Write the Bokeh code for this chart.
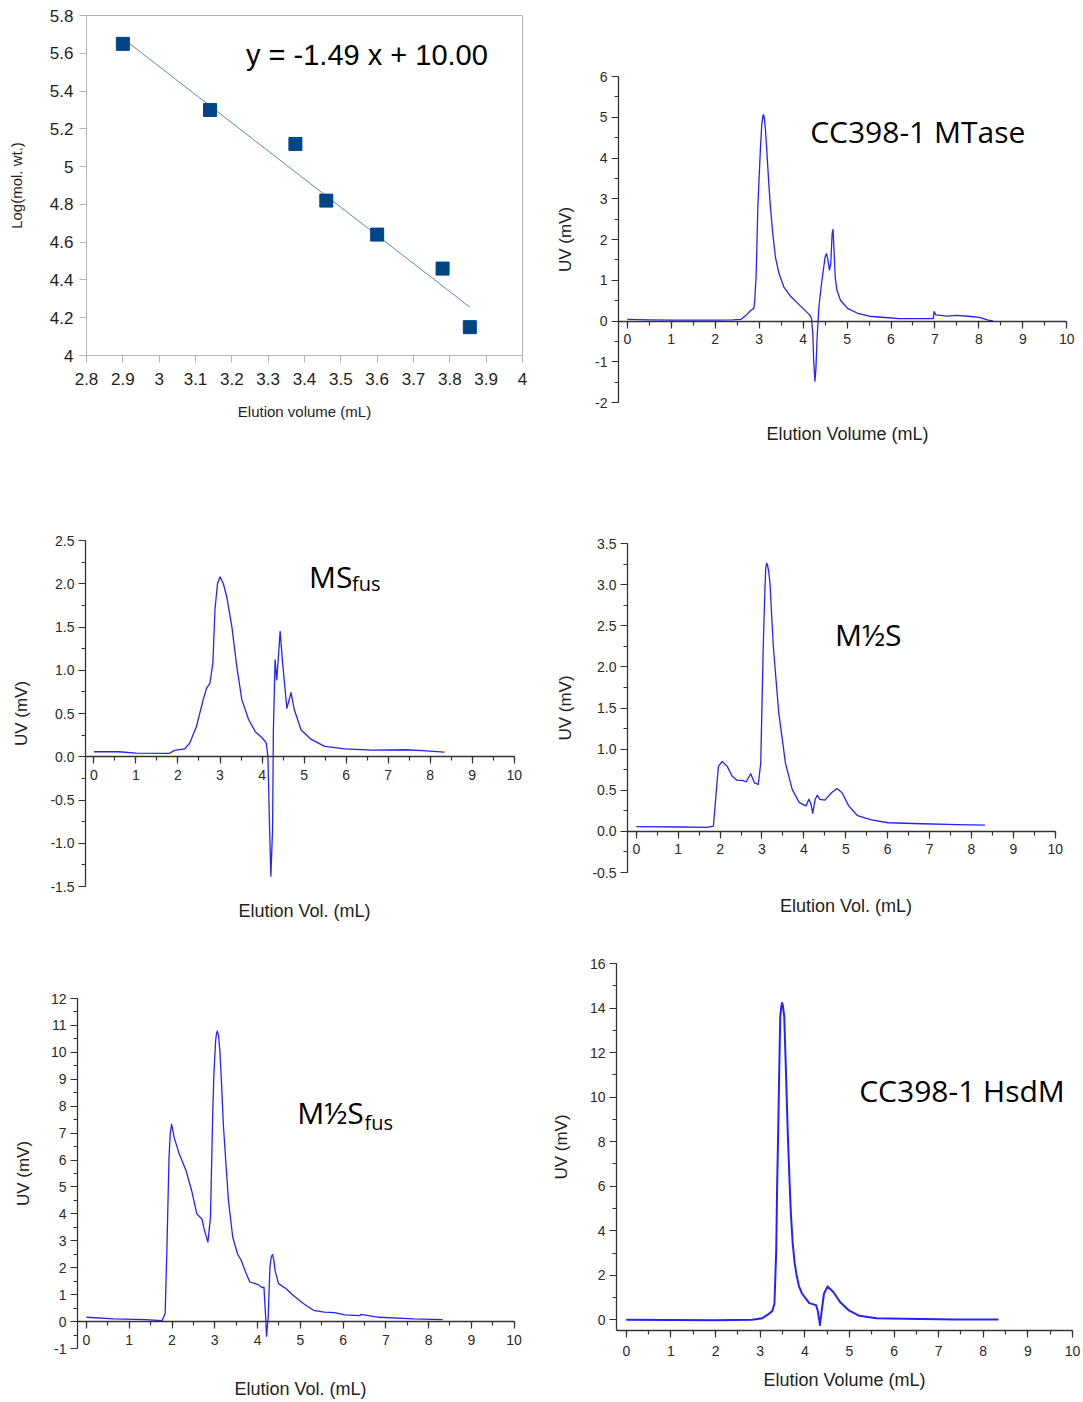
from bokeh.plotting import figure
from bokeh.layouts import column, row
from bokeh.models import (LinearAxis, SingleIntervalTicker, FixedTicker, Label,
                          CustomJSTickFormatter, PrintfTickFormatter, Range1d)
from bokeh.embed import file_html
from bokeh.resources import INLINE

# ---------------- data ----------------
# Panel 1: calibration
cal_volume = [2.90, 3.14, 3.375, 3.46, 3.60, 3.78, 3.855]
cal_logmw = [5.65, 5.30, 5.12, 4.82, 4.64, 4.46, 4.15]
fit_slope = -1.49
fit_intercept = 10.00
fit_text = "y = -1.49 x + 10.00"

# Panel 2: CC398-1 MTase
mtase_x = [0, 0.5, 1.0, 1.5, 2.0, 2.4, 2.59, 2.71, 2.82, 2.88, 2.90, 2.93, 2.95, 2.97, 3.00, 3.03,
           3.06, 3.09, 3.11, 3.14, 3.17, 3.21, 3.25, 3.31, 3.37, 3.45, 3.56, 3.72, 3.92, 4.07,
           4.15, 4.19, 4.22, 4.24, 4.27, 4.29, 4.32, 4.36, 4.41, 4.46, 4.50, 4.53, 4.56, 4.60,
           4.63, 4.66, 4.68, 4.70, 4.73, 4.77, 4.85, 5.01, 5.24, 5.55, 5.94, 6.18, 6.96, 6.98,
           7.02, 7.27, 7.50, 7.82, 8.01, 8.21, 8.32]
mtase_y = [0.04, 0.03, 0.02, 0.02, 0.02, 0.03, 0.04, 0.15, 0.27, 0.31, 0.51, 1.08, 1.9, 2.8, 3.53, 4.26,
           4.83, 5.06, 5.04, 4.75, 4.26, 3.53, 2.88, 2.14, 1.57, 1.17, 0.84, 0.60, 0.39, 0.23,
           0.15, 0.07, -0.3, -0.95, -1.48, -1.2, -0.38, 0.35, 0.84, 1.25, 1.57, 1.65, 1.53, 1.25,
           1.41, 2.14, 2.25, 1.82, 1.08, 0.76, 0.51, 0.31, 0.19, 0.11, 0.08, 0.06, 0.06, 0.23,
           0.15, 0.12, 0.14, 0.11, 0.09, 0.02, 0.0]

# Panel 3: MSfus
msfus_x = [0, 0.59, 1.0, 1.8, 1.92, 2.16, 2.28, 2.44, 2.60, 2.68, 2.76, 2.83, 2.88, 2.94, 3.00, 3.08,
           3.16, 3.28, 3.40, 3.52, 3.68, 3.84, 4.00, 4.10, 4.14, 4.18, 4.21, 4.25, 4.27, 4.31,
           4.35, 4.39, 4.43, 4.49, 4.59, 4.69, 4.77, 4.93, 5.17, 5.49, 5.97, 6.61, 7.42, 7.82, 8.34]
msfus_y = [0.058, 0.058, 0.042, 0.04, 0.073, 0.09, 0.16, 0.35, 0.66, 0.79, 0.85, 1.08, 1.70, 2.0, 2.08, 2.0,
           1.85, 1.51, 1.04, 0.66, 0.43, 0.29, 0.22, 0.16, 0.0, -0.84, -1.38, -0.84, 0.31, 1.12,
           0.89, 1.16, 1.45, 1.08, 0.56, 0.74, 0.54, 0.31, 0.20, 0.12, 0.09, 0.077, 0.081, 0.07, 0.054]

# Panel 4: M1/2S
mhs_x = [0, 1.1, 1.68, 1.84, 1.90, 1.96, 2.05, 2.17, 2.29, 2.41, 2.54, 2.62, 2.73, 2.82, 2.91, 2.97,
         3.03, 3.07, 3.09, 3.11, 3.13, 3.16, 3.19, 3.27, 3.40, 3.56, 3.72, 3.89, 4.05, 4.12, 4.17,
         4.21, 4.27, 4.32, 4.38, 4.50, 4.66, 4.79, 4.91, 5.07, 5.28, 5.61, 6.01, 6.83, 7.65, 8.32]
mhs_y = [0.057, 0.053, 0.049, 0.065, 0.43, 0.79, 0.85, 0.79, 0.67, 0.62, 0.62, 0.60, 0.70, 0.59, 0.57, 0.83,
         2.25, 2.95, 3.2, 3.26, 3.24, 3.16, 3.02, 2.25, 1.44, 0.83, 0.51, 0.35, 0.31, 0.39, 0.33,
         0.22, 0.39, 0.44, 0.39, 0.38, 0.47, 0.52, 0.47, 0.31, 0.19, 0.14, 0.105, 0.093, 0.081, 0.077]

# Panel 5: M1/2Sfus
mhsfus_x = [0, 0.64, 1.37, 1.77, 1.84, 1.88, 1.93, 1.96, 1.99, 2.02, 2.05, 2.17, 2.33, 2.46, 2.58, 2.70,
            2.76, 2.84, 2.90, 2.95, 2.98, 3.02, 3.04, 3.06, 3.09, 3.12, 3.16, 3.20, 3.32, 3.42, 3.53,
            3.62, 3.72, 3.82, 3.95, 4.04, 4.11, 4.15, 4.19, 4.21, 4.25, 4.29, 4.32, 4.35, 4.38, 4.41,
            4.49, 4.67, 4.83, 5.07, 5.31, 5.56, 5.80, 6.04, 6.40, 6.42, 6.84, 7.65, 8.33]
mhsfus_y = [0.16, 0.10, 0.074, 0.037, 0.3, 2.64, 6.1, 7.0, 7.33, 7.1, 6.84, 6.22, 5.6, 4.86, 4.0, 3.81,
            3.38, 2.95, 3.88, 7.58, 9.2, 10.42, 10.7, 10.79, 10.6, 10.05, 8.8, 7.33, 4.49, 3.14, 2.52,
            2.27, 1.84, 1.47, 1.41, 1.35, 1.26, 1.28, 0.17, -0.54, 0.17, 2.02, 2.4, 2.49, 2.3, 1.9,
            1.41, 1.22, 0.98, 0.67, 0.42, 0.35, 0.33, 0.25, 0.22, 0.27, 0.16, 0.10, 0.074]

# Panel 6: CC398-1 HsdM
hsdm_x = [0, 1.97, 2.82, 3.05, 3.17, 3.27, 3.32, 3.36, 3.38, 3.41, 3.43, 3.45, 3.47, 3.49, 3.51, 3.54,
          3.56, 3.59, 3.62, 3.66, 3.69, 3.73, 3.77, 3.81, 3.87, 3.94, 4.10, 4.25, 4.29, 4.34, 4.38,
          4.43, 4.51, 4.64, 4.79, 4.99, 5.22, 5.61, 6.23, 7.39, 8.34]
hsdm_y = [0, -0.015, 0, 0.075, 0.23, 0.39, 0.72, 3.12, 6.0, 9.13, 11.5, 13.6, 14.0, 14.23, 14.1, 13.6,
          12.3, 10.33, 8.3, 6.13, 4.7, 3.42, 2.6, 2.07, 1.5, 1.17, 0.75, 0.66, 0.42, -0.24, 0.42,
          1.17, 1.5, 1.25, 0.8, 0.42, 0.18, 0.075, 0.045, 0.015, 0.015]

# ---------------- styling helpers ----------------
AX_FONT = "Liberation Sans"
TITLE_FONT = "Open Sans"
CURVE = "#2323ff"
AXC = "#333333"


def style_axis(ax, tick_size="14px"):
    ax.axis_line_color = AXC
    ax.axis_line_width = 1.3
    ax.major_tick_line_color = AXC
    ax.minor_tick_line_color = AXC
    ax.major_tick_line_width = 1.2
    ax.minor_tick_line_width = 1.2
    ax.major_tick_out = 7
    ax.major_tick_in = 0
    ax.minor_tick_out = 4
    ax.minor_tick_in = 0
    ax.major_label_text_font = AX_FONT
    ax.major_label_text_font_size = tick_size
    ax.major_label_text_color = "#2a2a2a"
    ax.major_label_standoff = 4
    ax.axis_label_text_font = AX_FONT
    ax.axis_label_text_font_style = "normal"
    ax.axis_label_text_color = "#222222"


def origin_panel(w, h, bl, br, bt, bb, xr, yr, ytick, ymin_n, yfmt, ylabel, ylab_off,
                 xlabel, xlab_off, fixed=True):
    x_end = xr[1] + 0.22 if fixed else xr[1]
    p = figure(width=w, height=h, output_backend="svg", toolbar_location=None,
               x_range=Range1d(xr[0], x_end), y_range=Range1d(*yr),
               x_axis_type=None, min_border_left=bl, min_border_right=br,
               min_border_top=bt, min_border_bottom=bb, frame_align=False)
    p.outline_line_color = None
    p.xgrid.visible = False
    p.ygrid.visible = False
    p.yaxis.ticker = SingleIntervalTicker(interval=ytick, num_minor_ticks=ymin_n)
    p.yaxis.formatter = PrintfTickFormatter(format=yfmt)
    style_axis(p.yaxis[0])
    p.yaxis.axis_label = ylabel
    p.yaxis.axis_label_text_font_size = "17px"
    p.yaxis.axis_label_standoff = ylab_off
    xa = LinearAxis(ticker=SingleIntervalTicker(interval=1, num_minor_ticks=2),
                    formatter=PrintfTickFormatter(format="%d"), bounds=xr)
    style_axis(xa)
    if fixed:
        xa.fixed_location = 0
        xa.major_label_standoff = 6
        p.add_layout(xa, "below")
        lab = LinearAxis(ticker=FixedTicker(ticks=[]), axis_line_color=None,
                         major_tick_out=0, minor_tick_out=0, major_label_standoff=0,
                         axis_label=xlabel, axis_label_standoff=xlab_off)
        lab.axis_label_text_font = AX_FONT
        lab.axis_label_text_font_style = "normal"
        lab.axis_label_text_font_size = "18px"
        lab.axis_label_text_color = "#222222"
        p.add_layout(lab, "below")
    else:
        xa.axis_label = xlabel
        xa.axis_label_text_font_size = "18px"
        xa.axis_label_standoff = xlab_off
        xa.major_label_standoff = 8
        p.add_layout(xa, "below")
    return p


def title_label(p, x, y, text, size="30px"):
    p.add_layout(Label(x=x, y=y, text=text, text_font=TITLE_FONT,
                       text_font_size=size, text_color="black",
                       text_baseline="alphabetic", text_align="left"))


# ---------------- panel 1 ----------------
p1 = figure(width=540, height=470, output_backend="svg", toolbar_location=None,
            x_range=Range1d(2.8, 4.0), y_range=Range1d(4.0, 5.8001), frame_align=False,
            min_border_left=86, min_border_right=18, min_border_top=15, min_border_bottom=115)
p1.xgrid.visible = False
p1.ygrid.visible = False
p1.outline_line_color = "#b3b3b3"
p1.outline_line_width = 1
fmt = CustomJSTickFormatter(code="return String(parseFloat(tick.toFixed(2)));")
p1.xaxis.ticker = SingleIntervalTicker(interval=0.1, num_minor_ticks=0)
p1.yaxis.ticker = SingleIntervalTicker(interval=0.2, num_minor_ticks=0)
for ax in (p1.xaxis[0], p1.yaxis[0]):
    ax.formatter = fmt
    ax.axis_line_color = "#b3b3b3"
    ax.major_tick_line_color = "#b3b3b3"
    ax.major_tick_out = 7
    ax.major_tick_in = 0
    ax.minor_tick_line_color = None
    ax.major_label_text_font = AX_FONT
    ax.major_label_text_font_size = "17px"
    ax.major_label_text_color = "#1e1e1e"
    ax.major_label_standoff = 6
    ax.axis_label_text_font = AX_FONT
    ax.axis_label_text_font_style = "normal"
    ax.axis_label_text_font_size = "15px"
    ax.axis_label_text_color = "#1e1e1e"
p1.xaxis.major_label_standoff = 10
p1.xaxis.axis_label = "Elution volume (mL)"
p1.xaxis.axis_label_standoff = 15
p1.yaxis.axis_label = "Log(mol. wt.)"
p1.yaxis.axis_label_standoff = 22
fit_x = [min(cal_volume), max(cal_volume)]
fit_y = [fit_slope * v + fit_intercept for v in fit_x]
p1.line(fit_x, fit_y, line_color="#5b87bf", line_width=1)
p1.scatter(cal_volume, cal_logmw, marker="square", size=13, fill_color="#004586",
           line_color="#004586")
p1.add_layout(Label(x=3.239, y=5.59, text=fit_text, text_font=AX_FONT,
                    text_font_size="29px", text_color="black", text_baseline="alphabetic"))

# ---------------- panel 2 ----------------
p2 = origin_panel(542, 470, 78, 6, 76, 68, (-0.2, 10), (-2, 6), 1, 2, "%d",
                  "UV (mV)", 17, "Elution Volume (mL)", 21)
p2.line(mtase_x, mtase_y, line_color=CURVE, line_width=1.3, line_join="round")
title_label(p2, 4.16, 4.66, "CC398-1 MTase")

# ---------------- panel 3 ----------------
p3 = origin_panel(540, 465, 85, 17, 70, 49, (-0.2, 10), (-1.5, 2.5), 0.5, 2, "%.1f",
                  "UV (mV)", 16, "Elution Vol. (mL)", 14)
p3.line(msfus_x, msfus_y, line_color=CURVE, line_width=1.3, line_join="round")
title_label(p3, 5.12, 2.08, "MS")
title_label(p3, 6.14, 2.0, "fus", size="20px")

# ---------------- panel 4 ----------------
p4 = origin_panel(542, 465, 87, 18, 73, 63, (-0.21, 10), (-0.5, 3.5), 0.5, 2, "%.1f",
                  "UV (mV)", 14, "Elution Vol. (mL)", 23)
p4.line(mhs_x, mhs_y, line_color=CURVE, line_width=1.3, line_join="round")
title_label(p4, 4.74, 2.39, "M½S")

# ---------------- panel 5 ----------------
p5 = origin_panel(540, 466, 77, 17, 63, 52, (-0.21, 10), (-1, 12), 1, 2, "%d",
                  "UV (mV)", 15, "Elution Vol. (mL)", 30)
p5.line(mhsfus_x, mhsfus_y, line_color=CURVE, line_width=1.3, line_join="round")
title_label(p5, 4.93, 7.75, "M½S")
title_label(p5, 6.50, 7.40, "fus", size="20px")

# ---------------- panel 6 ----------------
p6 = origin_panel(542, 466, 76, 10, 28, 71, (-0.22, 10), (-0.48, 16), 2, 2, "%d",
                  "UV (mV)", 16, "Elution Volume (mL)", 11, fixed=False)
p6.line(hsdm_x, hsdm_y, line_color=CURVE, line_width=2, line_join="round")
title_label(p6, 5.22, 10.3, "CC398-1 HsdM")

layout = column(row(p1, p2), row(p3, p4), row(p5, p6))
open("out.html", "w").write(file_html(layout, INLINE))
